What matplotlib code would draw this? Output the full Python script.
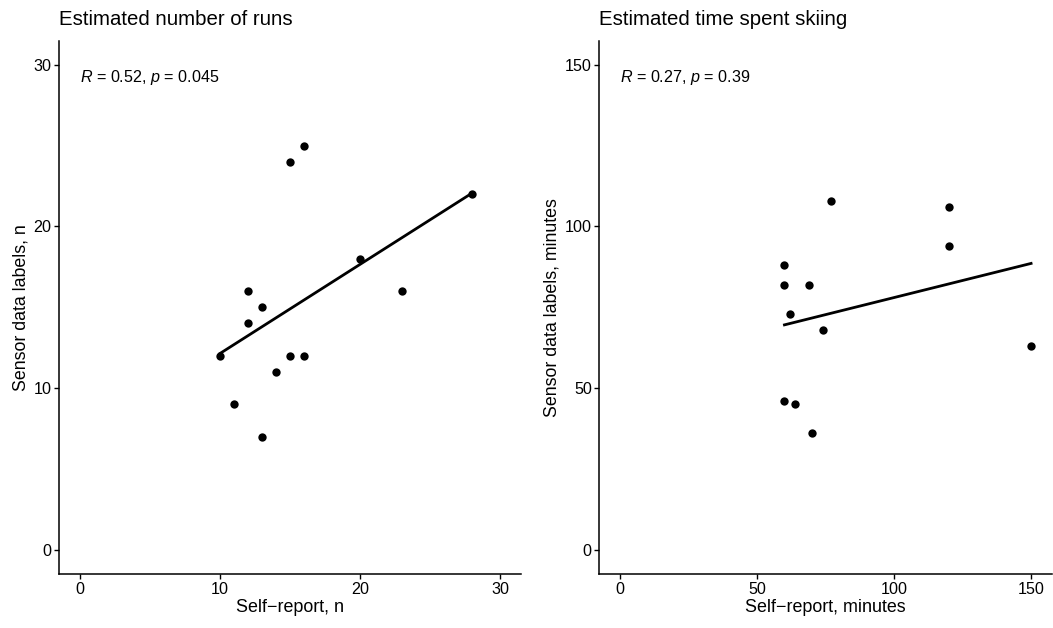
import numpy as np
import matplotlib
matplotlib.use("Agg")
import matplotlib.pyplot as plt

plt.rcParams['font.family'] = ['Liberation Sans', 'DejaVu Sans']
plt.rcParams['mathtext.fontset'] = 'custom'
plt.rcParams['mathtext.rm'] = 'Liberation Sans'
plt.rcParams['mathtext.it'] = 'Liberation Sans:italic'

# estimated number of runs
runs_self = [10, 11, 12, 12, 13, 13, 14, 15, 15, 16, 16, 20, 23, 28]
runs_sensor = [12, 9, 16, 14, 15, 7, 11, 24, 12, 25, 12, 18, 16, 22]

# estimated time spent skiing (minutes)
time_self = [60, 60, 60, 62, 64, 69, 70, 74, 77, 120, 120, 150]
time_sensor = [88, 82, 46, 73, 45, 82, 36, 68, 108, 106, 94, 63]

titles = ['Estimated number of runs', 'Estimated time spent skiing']
xlabels = ['Self\u2212report, n', 'Self\u2212report, minutes']
ylabels = ['Sensor data labels, n', 'Sensor data labels, minutes']
cor_labels = [r'$\it{R}$ = 0.52, $\it{p}$ = 0.045', r'$\it{R}$ = 0.27, $\it{p}$ = 0.39']
ticks = [[0, 10, 20, 30], [0, 50, 100, 150]]

fig = plt.figure(figsize=(10.53, 6.28), dpi=100)
ax1 = fig.add_axes([0.056, 0.086, 0.4388, 0.8493])
ax2 = fig.add_axes([0.5693, 0.086, 0.4294, 0.8493])

panels = [(ax1, runs_self, runs_sensor), (ax2, time_self, time_sensor)]

for i, (ax, x, y) in enumerate(panels):
    x = np.array(x, dtype=float)
    y = np.array(y, dtype=float)
    ax.scatter(x, y, s=36, color='black', zorder=3, linewidths=0)

    slope, icpt = np.polyfit(x, y, 1)
    xs = np.array([x.min(), x.max()])
    ax.plot(xs, slope * xs + icpt, color='black', lw=2.0, zorder=2)

    top = ticks[i][-1]
    pad = top * 0.05
    ax.set_xlim(-pad, top + pad)
    ax.set_ylim(-pad, top + pad)
    ax.set_xticks(ticks[i])
    ax.set_yticks(ticks[i])

    ax.spines['top'].set_visible(False)
    ax.spines['right'].set_visible(False)
    ax.spines['left'].set_linewidth(1.1)
    ax.spines['bottom'].set_linewidth(1.1)
    ax.tick_params(direction='out', length=3.5, width=1.0, labelsize=11.6, colors='black', pad=2)

    ax.set_xlabel(xlabels[i], fontsize=12.9, labelpad=2)
    ax.set_ylabel(ylabels[i], fontsize=12.8, labelpad=3)
    ax.set_title(titles[i], loc='left', fontsize=14.7, pad=11)

    ax.text(0.0455, 0.93, cor_labels[i], transform=ax.transAxes,
            fontsize=11.6, ha='left', va='center')

fig.savefig('out.png', dpi=100)
